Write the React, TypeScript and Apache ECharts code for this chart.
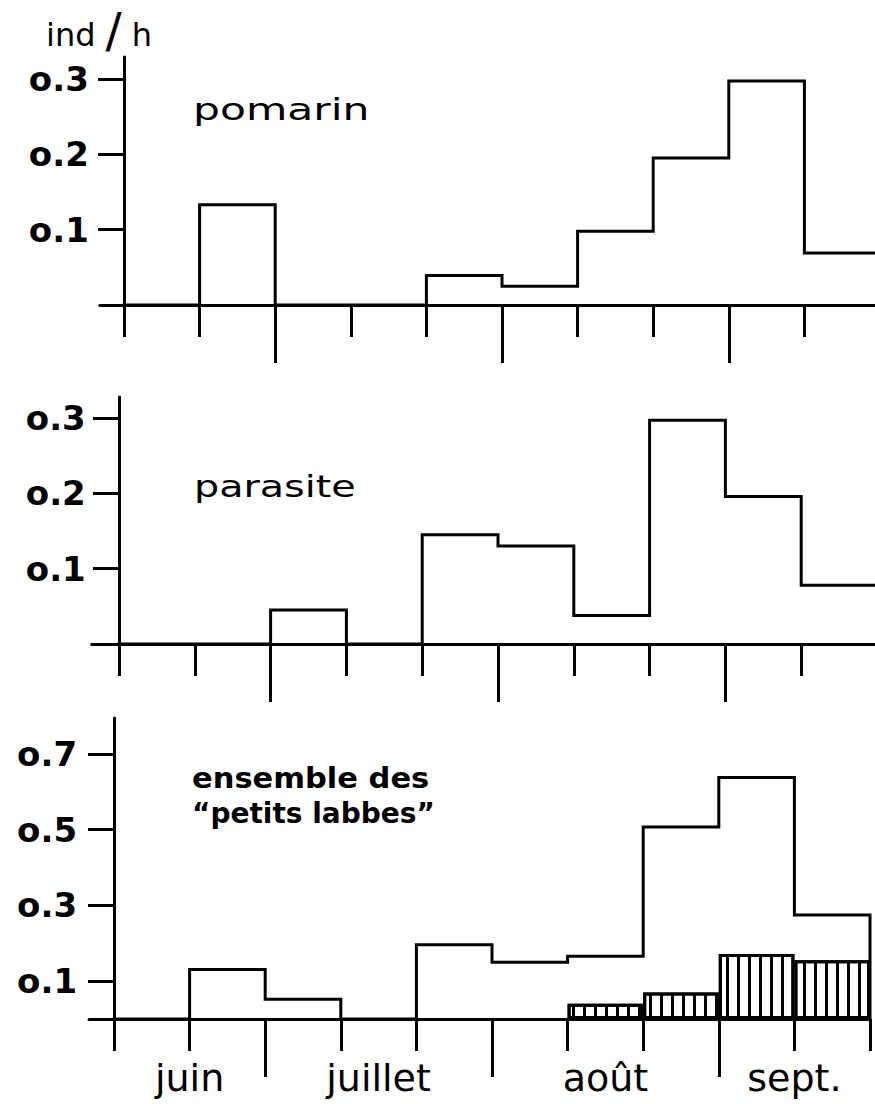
import { useEffect, useRef } from "react";
import * as echarts from "echarts";

// ---- data ----
const xMax = 10; // ten 10-day periods, mid-June to mid-September
const decadeTicks = [0, 1, 2, 3, 4, 5, 6, 7, 8, 9, 10];
const monthBounds = [0, 2, 5, 8, 10];
const months = ["juin", "juillet", "août", "sept."];
const pomarin = [0, 0.133, 0, 0, 0.039, 0.025, 0.098, 0.195, 0.297, 0.069];
const parasite = [0, 0, 0.045, 0, 0.145, 0.13, 0.038, 0.297, 0.196, 0.078];
const ensemble = [0, 0.131, 0.052, 0, 0.196, 0.15, 0.166, 0.507, 0.638, 0.275];
const hatched = [null, null, null, null, null, null, 0.04, 0.07, 0.172, 0.155];
const yTicksSmall = [0.1, 0.2, 0.3];
const yTicksLarge = [0.1, 0.3, 0.5, 0.7];
const panelTitles = ["pomarin", "parasite"];
const ensembleTitle = ["ensemble des", "\u201cpetits labbes\u201d"];

const FONT = "DejaVu Sans";

const monthCenters = months.map((_, i) => (monthBounds[i] + monthBounds[i + 1]) / 2);
const innerBounds = monthBounds.slice(1, -1);

function stepPoints(values: number[]) {
  const pts: number[][] = values.map((v, i) => [i, v]);
  pts.push([values.length, values[values.length - 1]]);
  pts.push([values.length, 0]);
  return pts;
}

const panels = [
  { x0: 124, unit: 75.6, xmin: -0.32, top: 57, base: 305, ymax: 0.329, ticks: yTicksSmall, values: pomarin, labelMargin: 11 },
  { x0: 119, unit: 75.8, xmin: -0.36, top: 397, base: 644, ymax: 0.328, ticks: yTicksSmall, values: parasite, labelMargin: 6 },
  { x0: 114, unit: 75.6, xmin: -0.33, top: 718, base: 1019, ymax: 0.795, ticks: yTicksLarge, values: ensemble, labelMargin: 12 },
];

const black = "#000";
const lineW = 3;

export default function App() {
  const ref = useRef<HTMLDivElement>(null);
  useEffect(() => {
    if (!ref.current) return;
    const chart = echarts.init(ref.current, null, { renderer: "svg" });

    const grid: any[] = [];
    const xAxis: any[] = [];
    const yAxis: any[] = [];
    const series: any[] = [];

    panels.forEach((p, i) => {
      grid.push({
        left: p.x0 + p.xmin * p.unit,
        top: p.top,
        width: (xMax - p.xmin) * p.unit,
        height: p.base - p.top,
        containLabel: false,
        outerBoundsMode: "none",
      });
      xAxis.push({
        gridIndex: i,
        type: "value",
        min: p.xmin,
        max: xMax,
        position: "bottom",
        axisLine: { show: true, onZero: true, lineStyle: { color: black, width: lineW } },
        axisTick: { show: true, customValues: decadeTicks, length: 32, lineStyle: { color: black, width: lineW } },
        axisLabel: { show: false },
        splitLine: { show: false },
      });
      xAxis.push({
        gridIndex: i,
        type: "value",
        min: p.xmin,
        max: xMax,
        position: "bottom",
        axisLine: { show: false, onZero: true },
        axisTick: { show: true, customValues: innerBounds, length: 58, lineStyle: { color: black, width: lineW } },
        axisLabel:
          i === 2
            ? {
                show: true,
                customValues: monthCenters,
                formatter: (v: number) => {
                  const k = monthCenters.findIndex((c) => Math.abs(c - v) < 1e-6);
                  return k >= 0 ? months[k] : "";
                },
                margin: 40,
                fontSize: 38,
                fontFamily: FONT,
                color: black,
              }
            : { show: false },
        splitLine: { show: false },
      });
      yAxis.push({
        gridIndex: i,
        type: "value",
        min: 0,
        max: p.ymax,
        axisLine: { show: true, onZero: true, lineStyle: { color: black, width: lineW } },
        axisTick: { show: true, customValues: p.ticks, length: 26, lineStyle: { color: black, width: lineW } },
        axisLabel: {
          show: true,
          customValues: p.ticks,
          formatter: (v: number) => "o." + Math.round(v * 10),
          margin: p.labelMargin,
          fontSize: 34,
          fontWeight: "bold",
          fontFamily: FONT,
          color: black,
        },
        splitLine: { show: false },
      });
      series.push({
        type: "line",
        xAxisIndex: 2 * i,
        yAxisIndex: i,
        step: "end",
        data: stepPoints(p.values),
        symbol: "none",
        showSymbol: false,
        lineStyle: { color: black, width: lineW, cap: "square", join: "miter" },
        z: 4,
        silent: true,
      });
    });

    const p3 = panels[2];
    series.push({
      type: "bar",
      xAxisIndex: 4,
      yAxisIndex: 2,
      barWidth: p3.unit,
      data: hatched
        .map((v, i) => (v == null ? null : [i + 0.5, v]))
        .filter((d) => d !== null),
      itemStyle: {
        color: "#fff",
        borderColor: black,
        borderWidth: lineW,
        decal: {
          symbol: "rect",
          symbolSize: 1,
          symbolKeepAspect: false,
          dashArrayX: [3, 8],
          dashArrayY: [4, 0],
          rotation: 0,
          color: black,
        },
      },
      z: 3,
      silent: true,
    });

    const titleStyle = (text: string, size: number, weight: string) => ({
      text,
      fontSize: size,
      fontFamily: FONT,
      fontWeight: weight,
      fill: black,
      textAlign: "left",
      align: "left",
      textVerticalAlign: "middle",
      verticalAlign: "middle",
    });

    const graphic: any[] = [
      {
        type: "text",
        x: 46,
        y: 35,
        style: {
          text: "{a|ind}{s|/}{h|h}",
          fill: black,
          textAlign: "left",
          align: "left",
          textVerticalAlign: "middle",
          verticalAlign: "middle",
          rich: {
            a: { fontSize: 32, fontFamily: FONT, fill: black },
            s: { fontSize: 48, fontFamily: FONT, fill: black, padding: [0, 10, 10, 10] },
            h: { fontSize: 32, fontFamily: FONT, fill: black },
          },
        },
      },
      { type: "text", x: 193, y: 109, scaleX: 1.37, style: titleStyle(panelTitles[0], 31, "normal") },
      { type: "text", x: 194, y: 486, scaleX: 1.28, style: titleStyle(panelTitles[1], 31, "normal") },
      { type: "text", x: 192, y: 778, scaleX: 1.09, style: titleStyle(ensembleTitle[0], 28, "bold") },
      { type: "text", x: 192, y: 813, scaleX: 1.0, style: titleStyle(ensembleTitle[1], 28, "bold") },
    ];

    chart.setOption({
      animation: false,
      backgroundColor: "#fff",
      grid,
      xAxis,
      yAxis,
      series,
      graphic,
    });
    return () => chart.dispose();
  }, []);
  return (
    <div
      ref={ref}
      style={{ position: "fixed", left: 0, top: 0, width: 875, height: 1104, background: "#fff" }}
    />
  );
}
